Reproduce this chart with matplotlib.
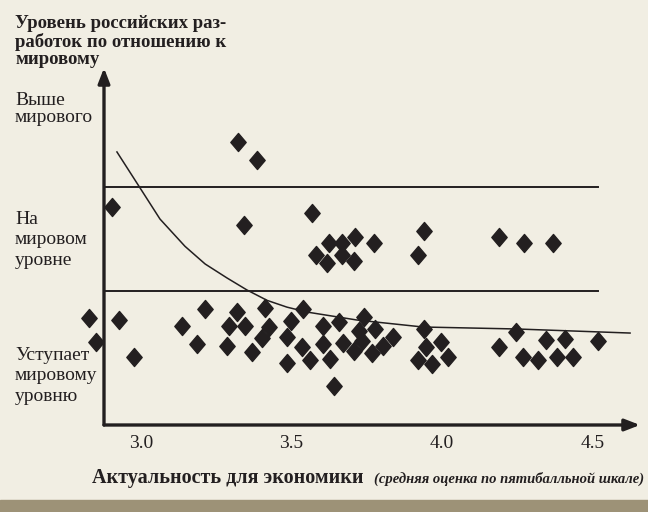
import numpy as np
import matplotlib.pyplot as plt
from matplotlib.path import Path

W, H = 648, 512
bg = '#f1eee3'
ink = '#231f20'

# points: relevance for the economy (x) vs level relative to world (y)
# y: 0..1 = behind world level, 1..2 = at world level, 2..3 = above
x_pts = [3.322, 3.385, 2.904, 3.342, 3.568, 3.625, 3.668, 3.711, 3.774, 3.581,
         3.668, 3.618, 3.708, 3.940, 3.920, 4.189, 4.272, 4.369,
         2.827, 2.850, 2.927, 2.977, 3.136, 3.213, 3.186, 3.319, 3.292, 3.346,
         3.286, 3.412, 3.425, 3.402, 3.369, 3.498, 3.485, 3.538, 3.535, 3.561,
         3.485, 3.605, 3.658, 3.605, 3.628, 3.671, 3.708, 3.741, 3.724, 3.734,
         3.777, 3.767, 3.804, 3.837, 3.641, 3.940, 3.947, 3.997, 3.920, 3.967,
         4.020, 4.189, 4.246, 4.269, 4.319, 4.346, 4.409, 4.382, 4.435, 4.518]
y_pts = [2.433, 2.260, 1.808, 1.635, 1.750, 1.462, 1.462, 1.519, 1.462, 1.346,
         1.346, 1.269, 1.288, 1.577, 1.346, 1.519, 1.462, 1.462,
         0.740, 0.510, 0.721, 0.365, 0.663, 0.827, 0.490, 0.798, 0.663, 0.663,
         0.471, 0.837, 0.654, 0.548, 0.413, 0.712, 0.558, 0.827, 0.462, 0.337,
         0.308, 0.663, 0.702, 0.490, 0.346, 0.500, 0.423, 0.750, 0.615, 0.519,
         0.635, 0.404, 0.471, 0.558, 0.087, 0.635, 0.462, 0.510, 0.337, 0.298,
         0.365, 0.462, 0.606, 0.365, 0.337, 0.529, 0.538, 0.365, 0.365, 0.519]

# trend curve
trend_x = [2.920, 2.997, 3.063, 3.146, 3.213, 3.286, 3.352, 3.419, 3.485,
           3.551, 3.718, 3.937, 4.249, 4.625]
trend_y = [2.337, 1.990, 1.692, 1.430, 1.260, 1.125, 1.010, 0.910, 0.845,
           0.798, 0.721, 0.654, 0.635, 0.596]

levels = [1, 2]
xticks = [3.0, 3.5, 4.0, 4.5]
xticklabels = ['3.0', '3.5', '4.0', '4.5']
level_labels = ['Уступает\nмировому\nуровню', 'На\nмировом\nуровне', 'Выше\nмирового']

plt.rcParams['font.family'] = ['Liberation Serif', 'DejaVu Serif']

fig = plt.figure(figsize=(W / 100, H / 100), dpi=100)
fig.patch.set_facecolor(bg)

def fx(x):
    return x / W

def fy(y):
    return 1 - y / H

# bottom band
fig.patches.append(plt.Rectangle((0, 0), 1, fy(500), transform=fig.transFigure,
                                 color='#9d9277', zorder=0))

ax = fig.add_axes([fx(104), fy(425), fx(640) - fx(104), fy(68) - fy(425)])
ax.set_facecolor(bg)
ax.set_xlim(2.877, 4.658)
ax.set_ylim(-0.288, 3.144)
for s in ax.spines.values():
    s.set_visible(False)
ax.set_yticks([])
ax.set_xticks(xticks)
ax.set_xticklabels(xticklabels, fontsize=14, color=ink)
ax.tick_params(axis='x', length=0, pad=7)

# axes with arrows
ax.annotate('', xy=(0, 1), xytext=(0, 0), xycoords='axes fraction',
            arrowprops=dict(arrowstyle='-|>,head_length=0.9,head_width=0.35',
                            lw=2.4, color=ink, shrinkA=0, shrinkB=0))
ax.annotate('', xy=(1, 0), xytext=(0, 0), xycoords='axes fraction',
            arrowprops=dict(arrowstyle='-|>,head_length=0.9,head_width=0.35',
                            lw=2.4, color=ink, shrinkA=0, shrinkB=0))

for lv in levels:
    ax.plot([2.877, 4.518], [lv, lv], color=ink, lw=1.4)

ax.plot(trend_x, trend_y, color=ink, lw=1.1)

diamond = Path([(0, 1), (0.85, 0), (0, -1), (-0.85, 0), (0, 1)],
               [Path.MOVETO, Path.LINETO, Path.LINETO, Path.LINETO, Path.CLOSEPOLY])
ax.plot(x_pts, y_pts, linestyle='none', marker=diamond, markersize=13,
        color=ink, clip_on=False, zorder=5)

# level labels
for lab, yc, ls in zip(level_labels, [376, 240, 109], [1.3, 1.3, 1.05]):
    fig.text(fx(15), fy(yc), lab, fontsize=14, color=ink, ha='left',
             va='center', linespacing=ls)

fig.text(fx(15), fy(15), 'Уровень российских раз-\nработок по отношению к\nмировому',
         fontsize=13.5, fontweight='bold', color=ink, ha='left', va='top',
         linespacing=1.05)

fig.text(fx(92), fy(478), 'Актуальность для экономики', fontsize=14.5,
         fontweight='bold', color=ink, ha='left', va='center')
fig.text(fx(644), fy(479), '(средняя оценка по пятибалльной шкале)', fontsize=10.5,
         style='italic', fontweight='bold', color=ink, ha='right', va='center')

fig.savefig('out.png', dpi=100, facecolor=fig.get_facecolor())
